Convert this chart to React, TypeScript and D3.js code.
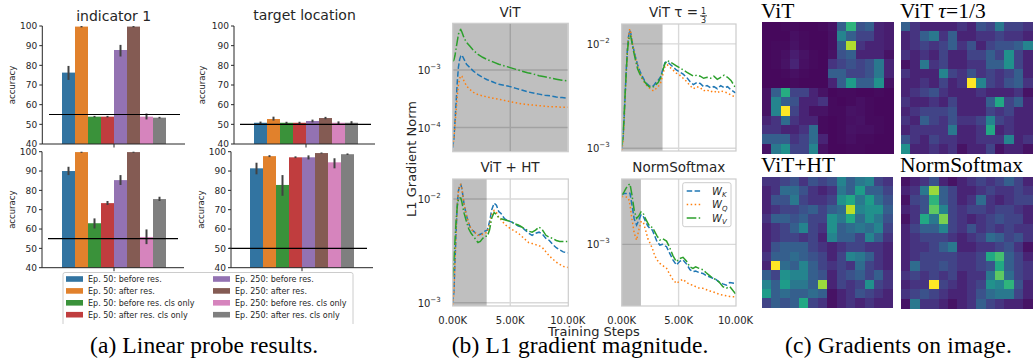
import React from 'react';
import * as d3 from 'd3';

// ---------- (a) linear probe data ----------
const hueLabels = [
  'Ep. 50: before res.', 'Ep. 50: after res.', 'Ep. 50: before res. cls only', 'Ep. 50: after res. cls only',
  'Ep. 250: before res.', 'Ep. 250: after res.', 'Ep. 250: before res. cls only', 'Ep. 250: after res. cls only',
];
const barColors = ['#3274a1', '#e1812c', '#3a923a', '#c03d3e', '#9372b2', '#845b53', '#d684bd', '#7f7f7f'];
const accTicks = [40, 50, 60, 70, 80, 90, 100];

const indTopMean = [76.3, 99.7, 53.9, 53.9, 87.8, 99.7, 53.9, 53.4];
const indTopLo = [72.6, 99.3, 53.5, 53.5, 84.5, 99.3, 52.5, 53.0];
const indTopHi = [79.7, 100.0, 54.3, 54.3, 90.4, 100.0, 55.5, 53.8];

const locTopMean = [50.8, 52.7, 50.8, 50.8, 51.7, 53.2, 50.8, 50.8];
const locTopLo = [50.2, 51.9, 50.2, 50.2, 51.0, 52.6, 50.0, 50.0];
const locTopHi = [51.4, 53.9, 51.3, 51.3, 52.4, 53.8, 51.5, 51.6];

const indBotMean = [90.0, 99.8, 63.0, 73.4, 85.3, 99.8, 55.9, 75.5];
const indBotLo = [87.9, 99.4, 60.3, 72.4, 82.8, 99.4, 52.2, 74.5];
const indBotHi = [92.2, 100.0, 65.5, 74.5, 87.9, 100.0, 59.8, 76.7];

const locBotMean = [91.4, 97.7, 82.8, 97.1, 97.1, 99.3, 94.5, 98.7];
const locBotLo = [88.3, 97.2, 77.2, 96.7, 96.0, 99.0, 91.4, 98.3];
const locBotHi = [94.3, 98.2, 87.9, 97.6, 98.1, 99.6, 96.6, 99.1];

// ---------- (b) gradient norm data (log10 of L1 norm) ----------
const stepsVit = [0, 100, 200, 300, 400, 500, 600, 700, 800, 1000, 1200, 1500, 1800, 2200, 2600, 3000,
  3500, 4000, 4500, 5000, 5500, 6000, 6500, 7000, 7500, 8000, 8500, 9000, 9500, 10000];
const vitK = [-4.35, -4.2, -3.9, -3.55, -3.2, -2.95, -2.82, -2.76, -2.74, -2.82, -2.9, -2.96, -3.02, -3.08, -3.13, -3.17,
  -3.21, -3.25, -3.27, -3.29, -3.32, -3.35, -3.38, -3.40, -3.42, -3.44, -3.45, -3.47, -3.48, -3.49];
const vitQ = [-4.32, -4.2, -3.95, -3.7, -3.45, -3.25, -3.15, -3.10, -3.11, -3.2, -3.28, -3.34, -3.39, -3.43, -3.45, -3.47,
  -3.49, -3.51, -3.53, -3.55, -3.57, -3.59, -3.60, -3.61, -3.62, -3.63, -3.64, -3.64, -3.65, -3.65];
const vitV = [-2.85, -2.83, -2.75, -2.62, -2.5, -2.38, -2.32, -2.30, -2.34, -2.45, -2.52, -2.59, -2.66, -2.73, -2.78, -2.82,
  -2.86, -2.90, -2.93, -2.96, -2.99, -3.02, -3.05, -3.07, -3.10, -3.12, -3.14, -3.16, -3.18, -3.19];

const stepsDense = [0, 100, 200, 300, 400, 500, 600, 700, 800, 900, 1000,
  1200, 1400, 1600, 1800, 2000, 2200, 2400, 2600, 2800, 3000, 3200, 3400, 3600, 3800, 4000, 4200,
  4500, 4800, 5100, 5400, 5700, 6000, 6300, 6600, 6900, 7200, 7500, 7800, 8100, 8400, 8700, 9000, 9300, 9600, 10000];
const tauK = [-3.0, -2.92, -2.75, -2.5, -2.25, -2.05, -1.93, -1.87, -1.9, -1.97, -2.03,
  -2.12, -2.2, -2.26, -2.31, -2.35, -2.38, -2.40, -2.41, -2.40, -2.37, -2.35, -2.32, -2.25, -2.18, -2.17, -2.19,
  -2.22, -2.25, -2.27, -2.29, -2.32, -2.36, -2.39, -2.37, -2.38, -2.41, -2.40, -2.42, -2.41, -2.43, -2.40, -2.42, -2.41, -2.44, -2.47];
const tauQ = [-3.02, -2.95, -2.78, -2.52, -2.27, -2.06, -1.93, -1.86, -1.89, -1.96, -2.03,
  -2.13, -2.22, -2.28, -2.33, -2.37, -2.40, -2.42, -2.44, -2.45, -2.43, -2.41, -2.38, -2.30, -2.22, -2.20, -2.22,
  -2.25, -2.28, -2.30, -2.33, -2.36, -2.40, -2.43, -2.41, -2.42, -2.45, -2.44, -2.46, -2.45, -2.47, -2.45, -2.46, -2.47, -2.49, -2.51];
const tauV = [-2.98, -2.9, -2.72, -2.48, -2.27, -2.08, -1.97, -1.92, -1.93, -1.99, -2.05,
  -2.15, -2.24, -2.29, -2.33, -2.36, -2.39, -2.41, -2.42, -2.41, -2.39, -2.37, -2.33, -2.26, -2.19, -2.16, -2.17,
  -2.19, -2.21, -2.23, -2.25, -2.27, -2.29, -2.31, -2.30, -2.31, -2.33, -2.32, -2.33, -2.31, -2.34, -2.32, -2.30, -2.32, -2.35, -2.42];

const htK = [-3.0, -2.9, -2.6, -2.3, -2.05, -1.92, -1.87, -1.86, -1.9, -1.98, -2.06,
  -2.16, -2.24, -2.29, -2.31, -2.33, -2.35, -2.34, -2.33, -2.31, -2.3, -2.22, -2.1, -2.04, -2.06, -2.12, -2.14,
  -2.19, -2.21, -2.22, -2.24, -2.26, -2.27, -2.30, -2.33, -2.35, -2.33, -2.32, -2.34, -2.38, -2.40, -2.44, -2.47, -2.49, -2.51, -2.52];
const htQ = [-3.02, -2.9, -2.6, -2.3, -2.05, -1.92, -1.87, -1.86, -1.9, -1.98, -2.06,
  -2.16, -2.24, -2.29, -2.31, -2.33, -2.35, -2.35, -2.34, -2.33, -2.32, -2.25, -2.15, -2.11, -2.13, -2.18, -2.2,
  -2.24, -2.27, -2.29, -2.31, -2.33, -2.36, -2.39, -2.42, -2.43, -2.44, -2.45, -2.47, -2.51, -2.55, -2.58, -2.61, -2.63, -2.65, -2.66];
const htV = [-2.75, -2.6, -2.4, -2.2, -2.07, -2.0, -1.99, -1.99, -2.03, -2.09, -2.14,
  -2.22, -2.29, -2.33, -2.36, -2.39, -2.42, -2.41, -2.38, -2.36, -2.36, -2.30, -2.18, -2.13, -2.15, -2.18, -2.19,
  -2.20, -2.21, -2.22, -2.24, -2.25, -2.27, -2.29, -2.31, -2.32, -2.30, -2.27, -2.30, -2.35, -2.37, -2.38, -2.40, -2.41, -2.41, -2.41];

const stepsNorm = [0, 200, 400, 600, 730, 900, 1100, 1310, 1500, 1700, 1890, 2100, 2300, 2480, 2700, 2900, 3100, 3350,
  3600, 3940, 4200, 4500, 4810, 5100, 5390, 5700, 6000, 6260, 6500, 6800, 7140, 7400, 7700, 8010, 8300, 8600, 8890, 9200, 9500, 10000];
const normK = [-2.65, -2.64, -2.64, -2.635, -2.638, -2.72, -2.82, -2.863, -2.83, -2.79, -2.80, -2.84, -2.87, -2.887, -2.90,
  -2.94, -2.98, -3.005, -3.0, -3.017, -3.06, -3.11, -3.147, -3.12, -3.111, -3.14, -3.18, -3.194, -3.19, -3.20,
  -3.206, -3.22, -3.23, -3.24, -3.25, -3.27, -3.28, -3.29, -3.27, -3.277];
const normQ = [-2.662, -2.66, -2.665, -2.674, -2.72, -2.82, -2.92, -2.97, -2.9, -2.84, -2.84, -2.9, -2.96, -2.99, -3.03,
  -3.08, -3.11, -3.135, -3.15, -3.17, -3.21, -3.25, -3.277, -3.26, -3.248, -3.27, -3.285, -3.289, -3.30, -3.31,
  -3.312, -3.32, -3.33, -3.336, -3.345, -3.355, -3.36, -3.365, -3.37, -3.372];
const normV = [-2.65, -2.63, -2.6, -2.58, -2.572, -2.65, -2.76, -2.816, -2.8, -2.77, -2.78, -2.82, -2.85, -2.875, -2.88,
  -2.91, -2.94, -2.97, -2.96, -2.977, -3.02, -3.08, -3.123, -3.10, -3.092, -3.12, -3.16, -3.17, -3.16, -3.17,
  -3.18, -3.2, -3.22, -3.24, -3.25, -3.27, -3.30, -3.31, -3.30, -3.35];

const xTickSteps = [0, 5000, 10000];
const xTickLabels = ['0.00K', '5.00K', '10.00K'];

// ---------- (c) gradient heatmaps (14x14) ----------
const gradVit = [
  [0.02, 0.02, 0.03, 0.03, 0.02, 0.02, 0.03, 0.05, 0.30, 0.65, 0.25, 0.30, 0.10, 0.08],
  [0.02, 0.02, 0.02, 0.04, 0.03, 0.02, 0.02, 0.04, 0.45, 0.30, 0.20, 0.20, 0.10, 0.08],
  [0.02, 0.03, 0.03, 0.05, 0.03, 0.02, 0.02, 0.04, 0.30, 0.88, 0.15, 0.10, 0.10, 0.08],
  [0.02, 0.03, 0.04, 0.08, 0.05, 0.03, 0.02, 0.05, 0.25, 0.30, 0.10, 0.10, 0.10, 0.05],
  [0.02, 0.03, 0.05, 0.10, 0.04, 0.03, 0.02, 0.15, 0.20, 0.25, 0.20, 0.25, 0.40, 0.10],
  [0.02, 0.02, 0.03, 0.04, 0.03, 0.02, 0.02, 0.30, 0.30, 0.20, 0.20, 0.25, 0.40, 0.10],
  [0.02, 0.02, 0.02, 0.03, 0.02, 0.02, 0.02, 0.10, 0.30, 0.55, 0.30, 0.30, 0.50, 0.05],
  [0.05, 0.30, 0.62, 0.20, 0.20, 0.10, 0.05, 0.02, 0.03, 0.03, 0.02, 0.02, 0.03, 0.02],
  [0.05, 0.45, 0.30, 0.25, 0.10, 0.10, 0.15, 0.03, 0.02, 0.03, 0.04, 0.03, 0.02, 0.02],
  [0.05, 0.45, 1.00, 0.20, 0.10, 0.05, 0.05, 0.03, 0.03, 0.05, 0.04, 0.03, 0.02, 0.02],
  [0.10, 0.15, 0.35, 0.15, 0.10, 0.10, 0.03, 0.02, 0.03, 0.04, 0.05, 0.03, 0.03, 0.02],
  [0.15, 0.15, 0.10, 0.10, 0.15, 0.35, 0.03, 0.02, 0.03, 0.05, 0.04, 0.04, 0.03, 0.02],
  [0.30, 0.30, 0.30, 0.15, 0.20, 0.35, 0.10, 0.02, 0.03, 0.04, 0.03, 0.03, 0.02, 0.02],
  [0.05, 0.40, 0.50, 0.20, 0.20, 0.45, 0.05, 0.02, 0.02, 0.03, 0.03, 0.02, 0.02, 0.02],
];
const gradTau = [
  [0.30, 0.15, 0.10, 0.10, 0.10, 0.10, 0.15, 0.10, 0.25, 0.20, 0.40, 0.20, 0.20, 0.15],
  [0.10, 0.15, 0.30, 0.40, 0.15, 0.30, 0.10, 0.10, 0.15, 0.15, 0.20, 0.15, 0.15, 0.10],
  [0.10, 0.15, 0.20, 0.15, 0.20, 0.30, 0.15, 0.25, 0.10, 0.20, 0.25, 0.25, 0.30, 0.45],
  [0.15, 0.10, 0.15, 0.10, 0.20, 0.10, 0.10, 0.20, 0.20, 0.30, 0.20, 0.50, 0.20, 0.10],
  [0.05, 0.10, 0.40, 0.15, 0.20, 0.10, 0.10, 0.15, 0.15, 0.30, 0.30, 0.50, 0.20, 0.10],
  [0.15, 0.10, 0.10, 0.10, 0.45, 0.20, 0.15, 0.25, 0.15, 0.20, 0.15, 0.20, 0.30, 0.10],
  [0.10, 0.10, 0.15, 0.10, 0.20, 0.10, 0.15, 1.00, 0.45, 0.20, 0.15, 0.25, 0.30, 0.15],
  [0.10, 0.15, 0.20, 0.25, 0.15, 0.10, 0.10, 0.10, 0.15, 0.10, 0.10, 0.10, 0.15, 0.05],
  [0.15, 0.10, 0.10, 0.15, 0.10, 0.20, 0.10, 0.10, 0.10, 0.30, 0.60, 0.20, 0.30, 0.10],
  [0.10, 0.15, 0.20, 0.20, 0.20, 0.25, 0.10, 0.10, 0.10, 0.20, 0.15, 0.20, 0.10, 0.10],
  [0.15, 0.10, 0.30, 0.20, 0.15, 0.25, 0.15, 0.15, 0.20, 0.45, 0.20, 0.15, 0.10, 0.10],
  [0.10, 0.15, 0.15, 0.15, 0.15, 0.40, 0.10, 0.10, 0.15, 0.60, 0.10, 0.15, 0.10, 0.10],
  [0.25, 0.15, 0.10, 0.20, 0.15, 0.15, 0.10, 0.10, 0.15, 0.15, 0.15, 0.45, 0.10, 0.15],
  [0.50, 0.10, 0.10, 0.15, 0.10, 0.15, 0.05, 0.10, 0.10, 0.20, 0.05, 0.10, 0.10, 0.05],
];
const gradHt = [
  [0.15, 0.15, 0.20, 0.25, 0.15, 0.25, 0.20, 0.25, 0.45, 0.30, 0.40, 0.45, 0.20, 0.15],
  [0.10, 0.15, 0.35, 0.35, 0.25, 0.15, 0.10, 0.15, 0.40, 0.30, 0.55, 0.30, 0.30, 0.20],
  [0.10, 0.25, 0.25, 0.40, 0.20, 0.15, 0.15, 0.20, 0.50, 0.60, 0.40, 0.55, 0.35, 0.25],
  [0.10, 0.15, 0.20, 0.20, 0.25, 0.30, 0.20, 0.30, 0.35, 0.90, 0.45, 0.50, 0.50, 0.30],
  [0.15, 0.30, 0.30, 0.25, 0.30, 0.20, 0.20, 0.50, 0.40, 0.60, 0.35, 0.50, 0.40, 0.25],
  [0.10, 0.15, 0.20, 0.30, 0.45, 0.20, 0.15, 0.50, 0.30, 0.35, 0.40, 0.35, 0.45, 0.20],
  [0.10, 0.15, 0.20, 0.20, 0.15, 0.20, 0.10, 0.45, 0.30, 0.30, 0.20, 0.45, 0.30, 0.15],
  [0.10, 0.25, 0.30, 0.30, 0.30, 0.20, 0.15, 0.10, 0.15, 0.20, 0.20, 0.15, 0.15, 0.10],
  [0.15, 0.30, 0.30, 0.35, 0.30, 0.25, 0.20, 0.10, 0.20, 0.45, 0.40, 0.30, 0.15, 0.10],
  [0.10, 1.00, 0.35, 0.30, 0.45, 0.30, 0.20, 0.15, 0.20, 0.15, 0.35, 0.20, 0.15, 0.10],
  [0.30, 0.20, 0.50, 0.45, 0.45, 0.30, 0.25, 0.10, 0.20, 0.25, 0.30, 0.20, 0.30, 0.15],
  [0.45, 0.30, 0.55, 0.40, 0.40, 0.30, 0.85, 0.10, 0.20, 0.15, 0.20, 0.50, 0.20, 0.15],
  [0.55, 0.30, 0.35, 0.30, 0.30, 0.35, 0.30, 0.05, 0.10, 0.15, 0.25, 0.20, 0.15, 0.10],
  [0.20, 0.30, 0.25, 0.30, 0.60, 0.20, 0.15, 0.05, 0.10, 0.15, 0.10, 0.15, 0.10, 0.10],
];
const gradNorm = [
  [0.05, 0.10, 0.15, 0.25, 0.10, 0.05, 0.10, 0.15, 0.20, 0.15, 0.20, 0.30, 0.20, 0.10],
  [0.10, 0.15, 0.40, 0.85, 0.30, 0.20, 0.10, 0.10, 0.15, 0.20, 0.15, 0.15, 0.20, 0.15],
  [0.05, 0.20, 0.25, 0.65, 0.30, 0.20, 0.10, 0.15, 0.35, 0.15, 0.10, 0.15, 0.20, 0.20],
  [0.10, 0.15, 0.25, 0.75, 0.45, 0.20, 0.15, 0.20, 0.20, 0.15, 0.20, 0.20, 0.15, 0.10],
  [0.05, 0.15, 0.60, 0.40, 0.80, 0.20, 0.15, 0.10, 0.15, 0.20, 0.25, 0.20, 0.20, 0.10],
  [0.10, 0.20, 0.30, 0.30, 0.45, 0.20, 0.15, 0.25, 0.15, 0.20, 0.15, 0.20, 0.15, 0.15],
  [0.10, 0.15, 0.20, 0.20, 0.20, 0.15, 0.10, 0.15, 0.20, 0.35, 0.30, 0.20, 0.25, 0.15],
  [0.10, 0.15, 0.15, 0.20, 0.30, 0.40, 0.10, 0.10, 0.15, 0.15, 0.20, 0.25, 0.15, 0.05],
  [0.10, 0.15, 0.20, 0.20, 0.20, 0.20, 0.15, 0.15, 0.20, 0.60, 0.70, 0.30, 0.20, 0.10],
  [0.10, 0.35, 0.20, 0.20, 0.25, 0.20, 0.15, 0.15, 0.20, 0.25, 0.60, 0.30, 0.20, 0.15],
  [0.15, 0.20, 0.15, 0.20, 0.15, 0.20, 0.10, 0.15, 0.15, 0.40, 0.75, 0.35, 0.20, 0.15],
  [0.10, 0.15, 0.15, 1.00, 0.20, 0.15, 0.10, 0.15, 0.20, 0.50, 0.45, 0.65, 0.25, 0.10],
  [0.15, 0.20, 0.25, 0.20, 0.15, 0.10, 0.10, 0.15, 0.25, 0.35, 0.40, 0.40, 0.20, 0.10],
  [0.05, 0.40, 0.15, 0.15, 0.10, 0.05, 0.10, 0.15, 0.30, 0.20, 0.15, 0.10, 0.10, 0.05],
];

const captionTexts = ['(a) Linear probe results.', '(b) L1 gradient magnitude.', '(c) Gradients on image.'];

const SANS = 'DejaVu Sans, sans-serif';
const SERIF = 'Liberation Serif, Times New Roman, serif';
const TXT = '#262626';

type BarProps = {
  mean: number[]; lo: number[]; hi: number[];
  ax0: number; ax1: number; yTop: number; yBot: number;
  ref: number; ref0: number; ref1: number; barC: number; labelX: number;
  title?: string; titleY?: number;
};

function BarPanel(p: BarProps) {
  const y = d3.scaleLinear().domain([40, 100]).range([p.yBot, p.yTop]);
  const x = d3.scaleBand().domain(hueLabels).range([p.barC - 52, p.barC + 52]).padding(0);
  const cx = (p.ax0 + p.ax1) / 2;
  return (
    <g>
      {p.mean.map((m, i) => (
        <rect key={i} x={x(hueLabels[i])} y={y(m)} width={x.bandwidth()} height={y(40) - y(m)} fill={barColors[i]} />
      ))}
      {p.mean.map((m, i) => (
        <line key={'e' + i} x1={x(hueLabels[i])! + x.bandwidth() / 2} x2={x(hueLabels[i])! + x.bandwidth() / 2}
          y1={y(p.lo[i])} y2={y(p.hi[i])} stroke="#424242" strokeWidth={2} />
      ))}
      <line x1={p.ref0} x2={p.ref1} y1={y(p.ref)} y2={y(p.ref)} stroke="#000" strokeWidth={1.2} />
      <line x1={p.ax0} x2={p.ax0} y1={y(100)} y2={y(40)} stroke={TXT} strokeWidth={1} />
      <line x1={p.ax0} x2={p.ax1} y1={y(40)} y2={y(40)} stroke={TXT} strokeWidth={1} />
      <line x1={p.barC} x2={p.barC} y1={y(40)} y2={y(40) + 3.5} stroke={TXT} strokeWidth={1} />
      {accTicks.map((t) => (
        <g key={t}>
          <line x1={p.ax0 - 3} x2={p.ax0} y1={y(t)} y2={y(t)} stroke={TXT} strokeWidth={1} />
          <text x={p.ax0 - 5} y={y(t)} dy="0.36em" textAnchor="end" fontSize={9} fontFamily={SANS} fill={TXT}>{t}</text>
        </g>
      ))}
      <text transform={`translate(${p.labelX},${(y(100) + y(40)) / 2}) rotate(-90)`} textAnchor="middle"
        fontSize={8.5} fontFamily={SANS} fill={TXT}>accuracy</text>
      {p.title && (
        <text x={cx} y={p.titleY} textAnchor="middle" fontSize={14} fontFamily={SANS} fill={TXT}>{p.title}</text>
      )}
    </g>
  );
}

type LineProps = {
  id: string; steps: number[]; k: number[]; q: number[]; v: number[];
  x0: number; x1: number; y0: number; y1: number; logLo: number; logHi: number;
  shadeTo: number; yTickExps: number[]; showX: boolean;
};

const seriesStyle = [
  { color: '#1f77b4', dash: '5.5,2.4' },
  { color: '#ff7f0e', dash: '1.5,2.5' },
  { color: '#2ca02c', dash: '9.6,2.4,1.5,2.4' },
];

function LinePanel(p: LineProps) {
  const xs = d3.scaleLinear().domain([0, 10000]).range([p.x0, p.x1 - 0.5]);
  const ys = d3.scaleLog().domain([10 ** p.logLo, 10 ** p.logHi]).range([p.y1, p.y0]);
  const line = d3.line<number>().x((_, i) => xs(p.steps[i])).y((d) => ys(10 ** d));
  const series = [p.k, p.q, p.v];
  return (
    <g>
      <defs>
        <clipPath id={'clip' + p.id}><rect x={p.x0} y={p.y0} width={p.x1 - p.x0} height={p.y1 - p.y0} /></clipPath>
      </defs>
      <rect x={p.x0} y={p.y0} width={p.x1 - p.x0} height={p.y1 - p.y0} fill="#fff" />
      {p.yTickExps.map((e) => (
        <line key={e} x1={p.x0} x2={p.x1} y1={ys(10 ** e)} y2={ys(10 ** e)} stroke="#d9d9d9" strokeWidth={1.4} />
      ))}
      <line x1={xs(5000)} x2={xs(5000)} y1={p.y0} y2={p.y1} stroke="#d9d9d9" strokeWidth={1.4} />
      <rect x={p.x0} y={p.y0} width={xs(p.shadeTo) - p.x0} height={p.y1 - p.y0} fill="#000" fillOpacity={0.25} />
      <g clipPath={`url(#clip${p.id})`}>
        {series.map((s, i) => (
          <path key={i} d={line(s)!} fill="none" stroke={seriesStyle[i].color} strokeWidth={1.5}
            strokeDasharray={seriesStyle[i].dash} />
        ))}
      </g>
      <rect x={p.x0} y={p.y0} width={p.x1 - p.x0} height={p.y1 - p.y0} fill="none" stroke="#cccccc" strokeWidth={1.2} />
      {p.yTickExps.map((e) => (
        <text key={'t' + e} x={p.x0 - 12} y={ys(10 ** e)} dy="0.4em" textAnchor="end" fontSize={10} fontFamily={SANS} fill={TXT}>
          10<tspan dy={-5} fontSize={7}>{'\u2212' + Math.abs(e)}</tspan>
        </text>
      ))}
      {p.showX && xTickSteps.map((s, i) => (
        <text key={'x' + s} x={xs(s)} y={324} textAnchor="middle" fontSize={10} fontFamily={SANS} fill={TXT}>{xTickLabels[i]}</text>
      ))}
    </g>
  );
}

function Heatmap({ grid, x0, y0, size }: { grid: number[][]; x0: number; y0: number; size: number }) {
  const idx = d3.range(grid.length).map(String);
  const b = d3.scaleBand().domain(idx).range([0, size]);
  return (
    <g transform={`translate(${x0},${y0})`} shapeRendering="crispEdges">
      {grid.map((row, r) => row.map((v, c) => (
        <rect key={r + '-' + c} x={b(String(c))} y={b(String(r))} width={b.bandwidth() + 0.6} height={b.bandwidth() + 0.6}
          fill={d3.interpolateViridis(v)} />
      )))}
    </g>
  );
}

function Caption({ text, cx, width }: { text: string; cx: number; width: number }) {
  return (
    <text x={cx - width / 2} y={353} textLength={width} lengthAdjust="spacing" fontSize={23.5}
      fontFamily={SERIF} fill="#000">{text}</text>
  );
}

export default function App() {
  return (
    <svg width={1035} height={362} style={{ position: 'absolute', left: 0, top: 0, background: '#fff' }}>
      {/* (a) */}
      <BarPanel mean={indTopMean} lo={indTopLo} hi={indTopHi} ax0={42.3} ax1={185} yTop={26} yBot={144}
        ref={55} ref0={49} ref1={180} barC={114} labelX={15} title="indicator 1" titleY={20.5} />
      <BarPanel mean={locTopMean} lo={locTopLo} hi={locTopHi} ax0={234} ax1={375} yTop={26} yBot={144}
        ref={50} ref0={240} ref1={371} barC={306} labelX={205} title="target location" titleY={20} />
      <BarPanel mean={indBotMean} lo={indBotLo} hi={indBotHi} ax0={42} ax1={184} yTop={151.7} yBot={267.7}
        ref={55} ref0={48} ref1={178} barC={114} labelX={15} />
      <BarPanel mean={locBotMean} lo={locBotLo} hi={locBotHi} ax0={231} ax1={373} yTop={151.7} yBot={267.7}
        ref={50} ref0={229} ref1={367} barC={302} labelX={204} />
      <g>
        <path d="M63,324 V274.5 Q63,272.5 65,272.5 H351 Q353,272.5 353,274.5 V324" fill="#fff" fillOpacity={0.92}
          stroke="#cccccc" strokeWidth={1} />
        {hueLabels.map((h, i) => {
          const col = Math.floor(i / 4);
          const row = i % 4;
          const sx = col === 0 ? 66 : 213;
          const cy = 279 + row * 11.9;
          return (
            <g key={h}>
              <rect x={sx} y={cy - 2.8} width={17} height={5.6} fill={barColors[i]} />
              <text x={sx + 22} y={cy} dy="0.36em" fontSize={8} fontFamily={SANS} fill={TXT}>{h}</text>
            </g>
          );
        })}
      </g>
      <Caption text={captionTexts[0]} cx={204} width={228} />

      {/* (b) */}
      <LinePanel id="vit" steps={stepsVit} k={vitK} q={vitQ} v={vitV} x0={452.7} x1={568.3} y0={23.3} y1={151.7}
        logLo={-4.42} logHi={-2.19} shadeTo={10000} yTickExps={[-3, -4]} showX={false} />
      <LinePanel id="tau" steps={stepsDense} k={tauK} q={tauQ} v={tauV} x0={621.7} x1={736} y0={24} y1={151}
        logLo={-3.026} logHi={-1.81} shadeTo={3590} yTickExps={[-2, -3]} showX={false} />
      <LinePanel id="ht" steps={stepsDense} k={htK} q={htQ} v={htV} x0={452.7} x1={568.3} y0={179} y1={306}
        logLo={-3.032} logHi={-1.807} shadeTo={2950} yTickExps={[-2, -3]} showX={true} />
      <LinePanel id="norm" steps={stepsNorm} k={normK} q={normQ} v={normV} x0={621.7} x1={736} y0={179} y1={306}
        logLo={-3.437} logHi={-2.537} shadeTo={1690} yTickExps={[-3]} showX={true} />
      <text x={510} y={16.7} textAnchor="middle" fontSize={13.5} fontFamily={SANS} fill={TXT}>ViT</text>
      <g fontFamily={SANS} fill={TXT}>
        <text x={649} y={16.7} fontSize={13.5}>ViT τ =</text>
        <text x={703.5} y={14} textAnchor="middle" fontSize={8}>1</text>
        <line x1={700} x2={707} y1={15.8} y2={15.8} stroke={TXT} strokeWidth={0.8} />
        <text x={703.5} y={22.5} textAnchor="middle" fontSize={8}>3</text>
      </g>
      <text x={510} y={171.7} textAnchor="middle" fontSize={13.5} fontFamily={SANS} fill={TXT}>ViT + HT</text>
      <text x={678.8} y={171.7} textAnchor="middle" fontSize={13.5} fontFamily={SANS} fill={TXT}>NormSoftmax</text>
      <text transform="translate(416,159) rotate(-90)" textAnchor="middle" fontSize={13} fontFamily={SANS} fill={TXT}>L1 Gradient Norm</text>
      <text x={594} y={335.5} textAnchor="middle" fontSize={13} fontFamily={SANS} fill={TXT}>Training Steps</text>
      <g>
        <rect x={682.7} y={182.7} width={48.3} height={44} rx={2} fill="#fff" fillOpacity={0.9} stroke="#cccccc" strokeWidth={1} />
        {['K', 'Q', 'V'].map((s, i) => (
          <g key={s}>
            <line x1={686.7} x2={701.7} y1={191 + i * 13.5} y2={191 + i * 13.5} stroke={seriesStyle[i].color} strokeWidth={1.5}
              strokeDasharray={seriesStyle[i].dash} />
            <text x={712} y={191 + i * 13.5} dy="0.35em" fontSize={10} fontFamily={SANS} fontStyle="italic" fill={TXT}>
              W<tspan dy={2.5} fontSize={7}>{s}</tspan>
            </text>
          </g>
        ))}
      </g>
      <Caption text={captionTexts[1]} cx={580} width={256.7} />

      {/* (c) */}
      <Heatmap grid={gradVit} x0={762} y0={22} size={131} />
      <Heatmap grid={gradTau} x0={901} y0={22} size={131.5} />
      <Heatmap grid={gradHt} x0={761.7} y0={176.7} size={131} />
      <Heatmap grid={gradNorm} x0={901} y0={176.7} size={131.5} />
      <g fontFamily={SERIF} fontSize={21.5} fill="#000">
        <text x={761} y={17.5}>ViT</text>
        <text x={900} y={17.5}>ViT <tspan fontStyle="italic">τ</tspan>=1/3</text>
        <text x={761} y={172}>ViT+HT</text>
        <text x={900} y={172}>NormSoftmax</text>
      </g>
      <Caption text={captionTexts[2]} cx={898.4} width={226.7} />
    </svg>
  );
}
